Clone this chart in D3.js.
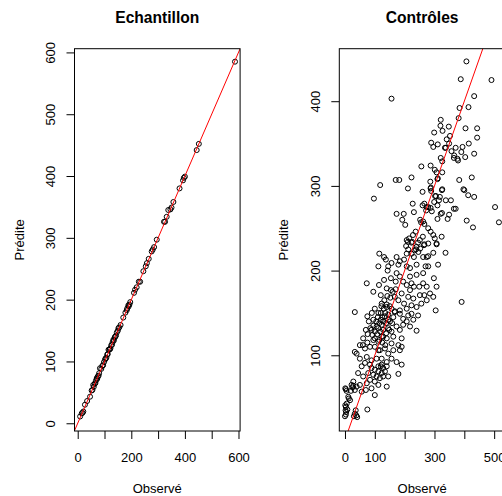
<!DOCTYPE html>
<html lang="fr">
<head>
  <meta charset="UTF-8">
  <title>Observé vs Prédite</title>
  <script src="https://cdn.jsdelivr.net/npm/d3@7/dist/d3.min.js"></script>
  <style>
    body { margin: 0; background: #fff; }
    svg { display: block; font-family: "Liberation Sans", Arial, sans-serif; }
  </style>
</head>
<body>
  <div id="chart"></div>
  <script>
    // [observé, prédite] - échantillon d'apprentissage
    const echantillon = [
      [9,11],[15,16],[18,17],[21,19],[27,30],[35,36],[46,43],[52,53],[55,54],[58,62],
      [60,59],[63,64],[66,65],[68,69],[71,73],[73,72],[75,76],[78,77],[80,81],[83,89],
      [88,88],[92,93],[95,94],[98,99],[102,103],[104,105],[107,106],[110,111],[112,112],[115,119],
      [118,119],[120,120],[122,121],[125,126],[128,127],[130,131],[133,135],[135,134],[138,139],[140,140],
      [143,142],[146,147],[150,150],[152,154],[155,155],[160,159],[170,171],[178,179],[183,183],[185,186],
      [189,191],[190,189],[193,192],[196,196],[210,211],[214,216],[220,220],[228,229],[233,229],[245,246],
      [254,254],[258,259],[265,266],[276,278],[280,281],[285,285],[295,297],[322,326],[326,326],[332,334],
      [338,345],[346,346],[350,349],[357,358],[380,380],[393,393],[396,397],[400,399],[444,442],[452,452],
      [587,585]
    ];

    // [observé, prédite] - contrôles
    const controles = [
      // partie haute
      [407,447],[388,426],[491,425],[433,406],[156,403],[414,393],[384,392],[381,380],[321,378],[320,371],
      [348,370],[404,368],[443,368],[299,363],[327,365],[352,359],[341,355],[443,357],[289,351],[296,346],
      [311,349],[349,350],[415,350],[335,345],[371,345],[390,340],[357,341],[433,338],[321,333],[365,333],
      [377,332],[403,334],[326,329],[256,323],[287,324],[301,319],[307,316],[326,316],[311,309],[383,307],
      [425,310],[223,310],[170,307],[182,307],[118,301],[211,297],[286,305],[287,297],[289,294],[260,293],
      [400,295],[413,289],[433,287],[325,295],[97,285],[302,288],[318,287],[315,283],[338,283],[355,283],
      [227,279],[260,277],[274,275],[287,274],[365,273],[371,273],[325,268],[349,266],[503,275],[516,257],
      [173,267],[197,267],[231,269],[291,270],[272,271],[192,260],[202,254],[252,260],[262,258],[408,259],
      [429,251],[279,250],[237,246],[211,234],[225,234],[261,240],[287,246],[301,238],[307,231],[266,231],
      [338,345],[394,346],[366,336],[379,330],[310,308],[288,298],[326,296],[397,296],[305,288],[299,281],
      [266,279],[279,275],[310,277],[321,267],[310,261],[344,261],[255,257],[266,255],
      // bande 200-250
      [115,220],[131,216],[137,213],[173,216],[184,211],[198,213],[207,220],[223,220],[231,216],[246,222],
      [262,216],[274,216],[279,217],[296,221],[337,221],[270,205],[279,205],[312,207],[240,207],[207,205],
      [218,203],[179,207],[156,209],[145,205],[112,205],[207,236],[223,233],[240,228],[251,236],[265,230],
      [279,232],[296,242],[307,232],[324,240],[212,225],[238,225],[215,238],[228,242],[245,233],[252,226],
      [233,224],[205,229],
      // bande 150-200
      [262,197],[298,191],[154,191],[143,200],[73,185],[114,183],[140,179],[95,175],[391,163],[304,153],
      [240,129],[173,197],[184,193],[170,187],[195,187],[207,183],[223,185],[231,181],[218,177],[212,169],
      [229,167],[251,171],[249,181],[262,185],[274,165],[256,161],[240,157],[223,159],[207,155],[198,161],
      [190,173],[179,165],[167,169],[154,177],[131,189],[120,171],[123,161],[140,157],[156,155],[167,151],
      [184,149],[195,143],[212,147],[223,149],[245,147],[266,171],[274,181],[285,173],[307,181],[296,169],
      [240,195],[218,193],
      // bande 100-150
      [33,151],[75,146],[95,142],[112,150],[120,142],[134,146],[151,140],[167,152],[184,153],[123,136],
      [106,134],[89,130],[100,128],[128,130],[145,132],[156,128],[173,134],[184,130],[195,136],[207,140],
      [218,134],[229,142],[162,122],[190,120],[179,112],[156,114],[140,120],[123,122],[112,116],[95,118],
      [76,125],[61,120],[50,112],[67,108],[84,110],[100,110],[117,106],[134,108],[145,102],[162,106],
      [184,106],[190,110],[112,106],[39,102],[33,104],[50,96],[73,98],[89,94],[106,96],[123,96],
      [140,92],[156,96],[173,92],
      [105,140],[110,145],[115,138],[120,150],[125,145],[130,155],[135,150],[140,160],[145,148],[150,158],
      [108,125],[118,128],[128,122],[138,126],[148,130],[158,138],[162,145],[125,115],[135,112],[115,118],
      [100,120],[92,124],[128,140],[138,138],[145,142],[112,132],[122,158],[132,165],[142,170],[152,168],
      [160,175],[170,178],[100,155],[90,150],[80,140],[70,130],[60,112],[85,132],[95,135],[75,115],
      // bande 60-100
      [89,85],[100,83],[112,87],[128,85],[140,87],[140,63],[145,75],[120,87],[123,79],[179,78],
      [190,89],[100,53],[75,36],[50,65],[89,61],[73,67],[61,75],[44,79],[56,87],[67,91],
      [84,89],[95,77],[106,75],[117,73],[128,75],[112,81],[100,69],[84,71],[70,59],[56,57],
      [39,63],[28,69],[22,65],[33,59],[78,79],[123,89],[134,81],[112,65],
      // petites valeurs
      [1,61],[3,60],[5,58],[11,51],[13,49],[17,47],[1,41],[3,39],[6,43],[2,35],
      [4,33],[8,36],[0,28],[3,30],[33,31],[41,27],[30,28],[36,35],[38,29],[20,58],
      [25,62],[28,64]
    ];

    // domaines (plage R avec 4 % de marge) et graduations
    const echXDomain = [-12, 606];
    const echYDomain = [-12.5, 606];
    const echTicks = [0, 100, 200, 300, 400, 500, 600];
    const echXLabels = [0, 200, 400, 600];
    const echYLabels = [0, 100, 200, 300, 400, 500, 600];

    const ctrlXDomain = [-19, 536];
    const ctrlYDomain = [10.6, 462];
    const ctrlXTicks = [0, 100, 200, 300, 400, 500];
    const ctrlYTicks = [100, 200, 300, 400];
    const ctrlXLabels = [0, 100, 300, 500];
    const ctrlYLabels = [100, 200, 300, 400];

    const width = 502, height = 496;
    const plotTop = 48.7, plotBottom = 431, boxW = 165.6;

    const svg = d3.select("#chart").append("svg")
      .attr("width", width)
      .attr("height", height);

    svg.append("defs").selectAll("clipPath")
      .data(["clip-ech", "clip-ctrl"])
      .join("clipPath")
      .attr("id", d => d)
      .append("rect")
      .attr("x", (d, i) => i === 0 ? 74.5 : 339.3)
      .attr("y", plotTop)
      .attr("width", boxW)
      .attr("height", plotBottom - plotTop);

    function panel(opts) {
      const left = opts.left;
      const x = d3.scaleLinear().domain(opts.xDomain).range([left, left + boxW]);
      const y = d3.scaleLinear().domain(opts.yDomain).range([plotBottom, plotTop]);
      const g = svg.append("g");

      // points
      g.append("g")
        .attr("clip-path", `url(#${opts.clip})`)
        .selectAll("circle")
        .data(opts.data)
        .join("circle")
        .attr("cx", d => x(d[0]))
        .attr("cy", d => y(d[1]))
        .attr("r", 2.5)
        .attr("fill", "none")
        .attr("stroke", "#000")
        .attr("stroke-width", 1);

      // droite y = x
      const lo = Math.max(opts.xDomain[0], opts.yDomain[0]);
      const hi = Math.min(opts.xDomain[1], opts.yDomain[1]);
      g.append("line")
        .attr("clip-path", `url(#${opts.clip})`)
        .attr("x1", x(lo - 50)).attr("y1", y(lo - 50))
        .attr("x2", x(hi + 50)).attr("y2", y(hi + 50))
        .attr("stroke", "#ff0000")
        .attr("stroke-width", 1);

      // cadre
      g.append("rect")
        .attr("x", left).attr("y", plotTop)
        .attr("width", boxW).attr("height", plotBottom - plotTop)
        .attr("fill", "none")
        .attr("stroke", "#000")
        .attr("stroke-width", 1);

      // axe x
      const ax = g.append("g")
        .attr("transform", `translate(0,${plotBottom})`)
        .call(d3.axisBottom(x).tickValues(opts.xTicks).tickSize(8).tickSizeOuter(0)
          .tickFormat(d => opts.xLabels.includes(d) ? d : ""));
      ax.select(".domain").remove();
      ax.selectAll("line").attr("stroke", "#000");
      ax.selectAll("text")
        .attr("y", 30.5).attr("dy", null)
        .attr("fill", "#000")
        .style("font-size", "13px")
        .style("font-family", "Liberation Sans, Arial, sans-serif");

      // axe y
      const ay = g.append("g")
        .attr("transform", `translate(${left},0)`)
        .call(d3.axisLeft(y).tickValues(opts.yTicks).tickSize(8).tickSizeOuter(0)
          .tickFormat(d => opts.yLabels.includes(d) ? d : ""));
      ay.select(".domain").remove();
      ay.selectAll("line").attr("stroke", "#000");
      ay.selectAll("text")
        .attr("x", null).attr("dy", null)
        .attr("transform", "translate(-19.5,0) rotate(-90)")
        .attr("text-anchor", "middle")
        .attr("fill", "#000")
        .style("font-size", "13px")
        .style("font-family", "Liberation Sans, Arial, sans-serif");

      // titres
      g.append("text")
        .attr("x", left + boxW / 2)
        .attr("y", 22.5)
        .attr("text-anchor", "middle")
        .style("font-size", "15.6px")
        .style("font-weight", "bold")
        .text(opts.title);

      g.append("text")
        .attr("x", left + boxW / 2)
        .attr("y", 493)
        .attr("text-anchor", "middle")
        .style("font-size", "13px")
        .text("Observé");

      g.append("text")
        .attr("transform", `translate(${left - 51},${(plotTop + plotBottom) / 2}) rotate(-90)`)
        .attr("text-anchor", "middle")
        .style("font-size", "13px")
        .text("Prédite");
    }

    panel({
      left: 74.5, clip: "clip-ech", title: "Echantillon", data: echantillon,
      xDomain: echXDomain, yDomain: echYDomain,
      xTicks: echTicks, yTicks: echTicks, xLabels: echXLabels, yLabels: echYLabels
    });

    panel({
      left: 339.3, clip: "clip-ctrl", title: "Contrôles", data: controles,
      xDomain: ctrlXDomain, yDomain: ctrlYDomain,
      xTicks: ctrlXTicks, yTicks: ctrlYTicks, xLabels: ctrlXLabels, yLabels: ctrlYLabels
    });
  </script>
</body>
</html>
